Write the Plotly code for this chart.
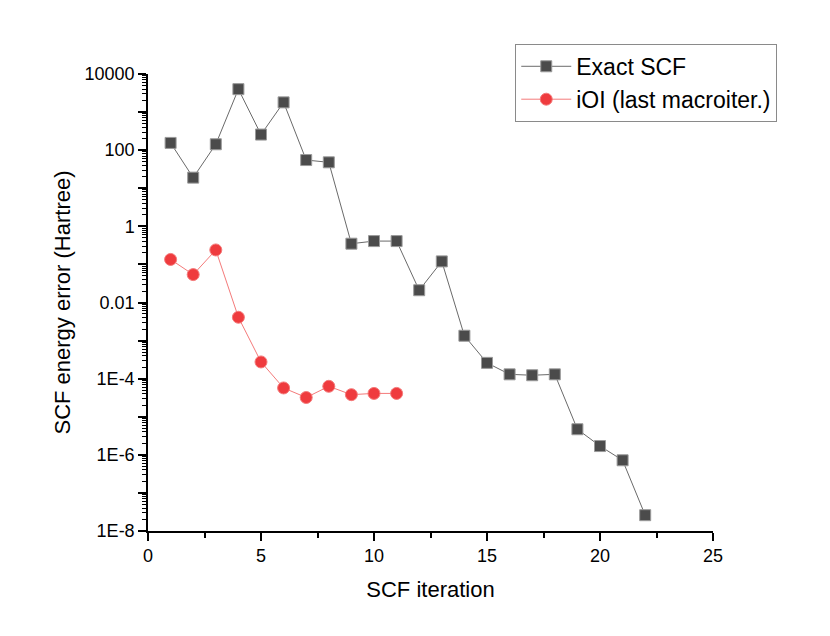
import plotly.graph_objects as go

# SCF convergence data
exact_iter = list(range(1, 23))
exact_err = [155, 19, 143, 4000, 257, 1800, 55, 48, 0.35, 0.41, 0.41, 0.021,
             0.12, 0.00134, 2.6e-4, 1.3e-4, 1.23e-4, 1.3e-4, 4.7e-6, 1.7e-6,
             7.2e-7, 2.6e-8]

ioi_iter = list(range(1, 12))
ioi_err = [0.135, 0.054, 0.24, 0.0041, 2.75e-4, 5.7e-5, 3.2e-5, 6.3e-5,
           3.8e-5, 4.1e-5, 4.1e-5]

y_tickvals = [10.0 ** k for k in range(-8, 5)]
y_ticktext = ["1E-8", "", "1E-6", "", "1E-4", "", "0.01", "", "1", "", "100", "", "10000"]
y_minor = [m * 10.0 ** k for k in range(-8, 4) for m in range(2, 10)]

fig = go.Figure()
fig.add_trace(go.Scatter(
    x=exact_iter, y=exact_err, mode="lines+markers", name="Exact SCF",
    line=dict(color="#6a6a6a", width=1),
    marker=dict(symbol="square", size=11, color="#4b4b4b",
                line=dict(color="#9a9a9a", width=1)),
))
fig.add_trace(go.Scatter(
    x=ioi_iter, y=ioi_err, mode="lines+markers", name="iOI (last macroiter.)",
    line=dict(color="#f47a7a", width=1),
    marker=dict(symbol="circle", size=12, color="#ef3b3e",
                line=dict(color="#f47a7a", width=1)),
))

fig.update_layout(
    width=830, height=636,
    margin=dict(l=140, r=125, t=66, b=113),
    plot_bgcolor="white", paper_bgcolor="white",
    font=dict(family="Liberation Sans, Arial, sans-serif", color="black", size=18),
    legend=dict(
        x=0.65, y=1.066, xanchor="left", yanchor="top",
        bordercolor="#8a8a8a", borderwidth=1, bgcolor="white",
        font=dict(size=23), tracegroupgap=0, itemwidth=50,
    ),
    xaxis=dict(
        title=dict(text="SCF iteration", font=dict(size=22), standoff=16),
        range=[0, 25], tickvals=[0, 5, 10, 15, 20, 25],
        ticks="outside", ticklen=8, tickwidth=1.5, tickcolor="black",
        showline=True, linecolor="black", linewidth=1.5,
        showgrid=False, zeroline=False,
        minor=dict(tickvals=[2.5, 7.5, 12.5, 17.5, 22.5], ticks="outside",
                   ticklen=5, tickcolor="black", tickwidth=1.5, showgrid=False),
    ),
    yaxis=dict(
        type="log", range=[-8, 4],
        title=dict(text="SCF energy error (Hartree)", font=dict(size=22), standoff=8),
        tickvals=y_tickvals, ticktext=y_ticktext,
        ticks="outside", ticklen=8, tickwidth=1.5, tickcolor="black",
        showline=True, linecolor="black", linewidth=1.5,
        showgrid=False, zeroline=False,
        minor=dict(tickvals=y_minor, ticks="outside", ticklen=4,
                   tickcolor="black", tickwidth=1, showgrid=False),
    ),
)

fig.write_html("out.html")
